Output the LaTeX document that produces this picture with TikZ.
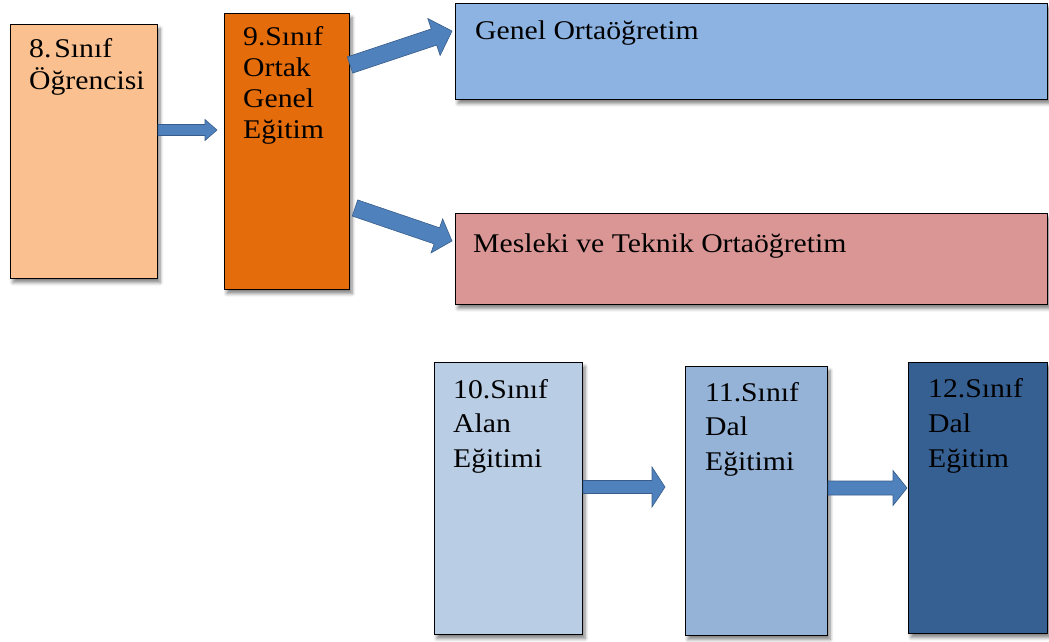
\documentclass[tikz,border=0pt]{standalone}
\usepackage{fontspec}
\setmainfont{Liberation Serif}[FakeStretch=1.1]
\usetikzlibrary{calc,shadows.blur}
\definecolor{c8}{HTML}{FAC08F}
\definecolor{c9}{HTML}{E46C0A}
\definecolor{cgen}{HTML}{8DB3E2}
\definecolor{cmes}{HTML}{D99694}
\definecolor{c10}{HTML}{B9CDE5}
\definecolor{c11}{HTML}{95B3D7}
\definecolor{c12}{HTML}{376092}
\definecolor{arrfill}{HTML}{4F81BD}
\definecolor{arredge}{HTML}{385D8A}
\tikzset{
  box/.style={draw=black, line width=1pt, inner sep=0pt, anchor=north west,
    blur shadow={shadow xshift=2.5pt, shadow yshift=-4pt, shadow blur radius=3.5pt, shadow blur steps=6, shadow opacity=50}},
  lbl/.style={inner sep=0pt, anchor=base west, align=left},
  arr/.style={fill=arrfill, draw=arredge, line width=0.6pt, line join=miter},
}
\newcommand\blockarrow[5]{%
  \coordinate (#1-#2-h) at ($(#2)!#5!(#1)$);
  \filldraw[arr] ($(#1)!#3!90:(#2)$) -- ($(#1-#2-h)!#3!90:(#2)$) -- ($(#1-#2-h)!#4!90:(#2)$)
    -- (#2) -- ($(#1-#2-h)!#4!-90:(#2)$) -- ($(#1-#2-h)!#3!-90:(#2)$) -- ($(#1)!#3!-90:(#2)$) -- cycle;
}
\begin{document}
\begin{tikzpicture}[x=1pt,y=-1pt]
\useasboundingbox (0,0) rectangle (1049,641);
% boxes
\node[box, fill=c8, minimum width=147pt, minimum height=254pt] (b8) at (10,24) {};
\node[box, fill=c9, minimum width=125pt, minimum height=276pt] (b9) at (224,13) {};
\node[box, fill=cgen, minimum width=592pt, minimum height=96pt] (gen) at (455,3) {};
\node[box, fill=cmes, minimum width=592pt, minimum height=91pt] (mes) at (455,213) {};
\node[box, fill=c10, minimum width=148pt, minimum height=272pt] (b10) at (434,362) {};
\node[box, fill=c11, minimum width=142pt, minimum height=269pt] (b11) at (685,366) {};
\node[box, fill=c12, minimum width=139pt, minimum height=271pt] (b12) at (908,362) {};
% labels (anchor = baseline of the last line)
\node[lbl, font=\fontsize{27}{32}\selectfont] (t8) at (29,89) {8.\kern3pt Sınıf\\Öğrencisi};
\node[lbl, font=\fontsize{27}{31}\selectfont] (t9) at (243,138) {9.Sınıf\\Ortak\\Genel\\Eğitim};
\node[lbl, font=\fontsize{27}{32}\selectfont] (tgen) at (475,39) {Genel Ortaöğretim};
\node[lbl, font=\fontsize{27}{32}\selectfont] (tmes) at (473,252) {Mesleki ve Teknik Ortaöğretim};
\node[lbl, font=\fontsize{27}{34.5}\selectfont] (t10) at (453,467) {10.Sınıf\\Alan\\Eğitimi};
\node[lbl, font=\fontsize{27}{34.5}\selectfont] (t11) at (705,470) {11.Sınıf\\Dal\\Eğitimi};
\node[lbl, font=\fontsize{27}{35}\selectfont] (t12) at (928,467) {12.Sınıf\\Dal\\Eğitim};
% arrow end points
\coordinate (a1s) at (b8.east |- 0,130);
\coordinate (a1e) at ($(b9.west |- 0,130)+(-7,0)$);
\coordinate (a2s) at (350,65);
\coordinate (a2e) at (452,31);
\coordinate (a3s) at (355,208);
\coordinate (a3e) at (452,241);
\coordinate (a4s) at (b10.east |- 0,487);
\coordinate (a4e) at ($(b11.west |- 0,487)+(-20,0)$);
\coordinate (a5s) at (b11.east |- 0,488);
\coordinate (a5e) at ($(b12.west |- 0,488)+(-1,0)$);
% arrows
\blockarrow{a1s}{a1e}{5.5pt}{10.5pt}{12pt}
\blockarrow{a2s}{a2e}{8.5pt}{19.5pt}{19pt}
\blockarrow{a3s}{a3e}{8.5pt}{18pt}{16pt}
\blockarrow{a4s}{a4e}{6.5pt}{20pt}{13pt}
\blockarrow{a5s}{a5e}{7pt}{17.5pt}{14pt}
\end{tikzpicture}
\end{document}
